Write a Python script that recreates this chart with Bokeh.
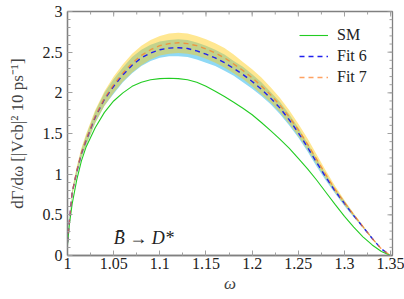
from bokeh.plotting import figure
from bokeh.models import FixedTicker, Label, CustomJSTickFormatter
from bokeh.embed import file_html
from bokeh.resources import INLINE

# ---------------- data ----------------
omega = [1.000, 1.002, 1.005, 1.010, 1.015, 1.020, 1.030, 1.040, 1.050, 1.060,
         1.070, 1.080, 1.090, 1.100, 1.110, 1.120, 1.130, 1.140, 1.150, 1.160,
         1.170, 1.180, 1.190, 1.200, 1.210, 1.220, 1.230, 1.240, 1.250, 1.260,
         1.270, 1.280, 1.290, 1.300, 1.310, 1.320, 1.330, 1.340, 1.350]

sm = [0.13, 0.38, 0.63, 0.93, 1.16, 1.33, 1.57, 1.76, 1.90, 2.00,
      2.08, 2.13, 2.16, 2.175, 2.18, 2.175, 2.16, 2.13, 2.08, 2.02,
      1.955, 1.885, 1.81, 1.73, 1.635, 1.535, 1.43, 1.32, 1.195, 1.065,
      0.925, 0.775, 0.625, 0.48, 0.35, 0.23, 0.13, 0.05, 0.0]

fit6 = [0.16, 0.42, 0.77, 1.03, 1.25, 1.41, 1.70, 1.92, 2.08, 2.22,
        2.34, 2.43, 2.49, 2.53, 2.55, 2.555, 2.545, 2.515, 2.475, 2.43,
        2.37, 2.30, 2.225, 2.14, 2.045, 1.935, 1.815, 1.67, 1.51, 1.33,
        1.14, 0.96, 0.79, 0.64, 0.49, 0.35, 0.21, 0.08, 0.0]
fit6_lo = [0.15, 0.40, 0.74, 0.99, 1.20, 1.35, 1.63, 1.84, 1.99, 2.13,
           2.24, 2.33, 2.39, 2.43, 2.45, 2.45, 2.44, 2.41, 2.37, 2.33,
           2.27, 2.21, 2.13, 2.05, 1.96, 1.86, 1.74, 1.60, 1.45, 1.28,
           1.09, 0.92, 0.76, 0.61, 0.47, 0.34, 0.20, 0.08, 0.0]
fit6_hi = [0.17, 0.44, 0.80, 1.07, 1.30, 1.47, 1.77, 2.00, 2.17, 2.31,
           2.44, 2.53, 2.59, 2.63, 2.65, 2.66, 2.65, 2.62, 2.58, 2.53,
           2.47, 2.39, 2.32, 2.23, 2.13, 2.01, 1.89, 1.74, 1.57, 1.38,
           1.19, 1.00, 0.82, 0.67, 0.51, 0.36, 0.22, 0.08, 0.0]

fit7 = [0.16, 0.42, 0.77, 1.04, 1.26, 1.42, 1.71, 1.93, 2.10, 2.245,
        2.365, 2.46, 2.53, 2.58, 2.605, 2.615, 2.605, 2.58, 2.54, 2.49,
        2.43, 2.355, 2.275, 2.185, 2.085, 1.975, 1.85, 1.705, 1.545, 1.37,
        1.18, 0.99, 0.81, 0.65, 0.50, 0.355, 0.21, 0.08, 0.0]
fit7_lo = [0.15, 0.40, 0.73, 0.99, 1.20, 1.35, 1.63, 1.84, 2.00, 2.14,
           2.25, 2.34, 2.41, 2.46, 2.48, 2.49, 2.48, 2.46, 2.42, 2.37,
           2.31, 2.24, 2.17, 2.08, 1.98, 1.88, 1.76, 1.62, 1.47, 1.30,
           1.12, 0.94, 0.77, 0.62, 0.48, 0.34, 0.20, 0.08, 0.0]
fit7_hi = [0.17, 0.44, 0.81, 1.09, 1.32, 1.49, 1.79, 2.02, 2.20, 2.35,
           2.48, 2.58, 2.65, 2.70, 2.73, 2.74, 2.73, 2.70, 2.66, 2.61,
           2.55, 2.47, 2.38, 2.29, 2.19, 2.07, 1.94, 1.79, 1.62, 1.44,
           1.24, 1.04, 0.85, 0.68, 0.52, 0.37, 0.22, 0.08, 0.0]

x_ticks = [1.0, 1.05, 1.1, 1.15, 1.2, 1.25, 1.3, 1.35]
x_tick_labels = ["1", "1.05", "1.1", "1.15", "1.2", "1.25", "1.3", "1.35"]
y_ticks = [0.0, 0.5, 1.0, 1.5, 2.0, 2.5, 3.0]
y_tick_labels = ["0", "0.5", "1", "1.5", "2", "2.5", "3"]
series_labels = ["SM", "Fit 6", "Fit 7"]

x_minor = [1.0 + 0.025 * i for i in range(15)]
y_minor = [0.1 * i for i in range(31)]

X0, X1 = 1.0, 1.352
Y0, Y1 = 0.0, 3.0
W, H = 404, 299
BL, BR, BT, BB = 67, 12, 11, 44
FW, FH = W - BL - BR, H - BT - BB

FONT = "Liberation Serif"
AXIS_COLOR = "#808080"
TICK_COLOR = "#a0a0a0"

p = figure(width=W, height=H, x_range=(X0, X1), y_range=(Y0, Y1),
           output_backend="svg", toolbar_location=None,
           min_border_left=BL, min_border_right=BR, min_border_top=BT, min_border_bottom=BB)
p.grid.visible = False
p.outline_line_color = AXIS_COLOR
p.outline_line_width = 1.3
p.background_fill_color = "white"
p.border_fill_color = "white"


def fmt(tvals, tlabels):
    return CustomJSTickFormatter(args=dict(tvals=tvals, tlabels=tlabels), code="""
        const i = tvals.findIndex(t => Math.abs(t - tick) < 1e-9);
        return i >= 0 ? tlabels[i] : '';
    """)


def style(ax, tvals, minor, tlabels):
    ax.ticker = FixedTicker(ticks=tvals, minor_ticks=minor)
    ax.formatter = fmt(tvals, tlabels)
    ax.axis_line_color = AXIS_COLOR
    ax.axis_line_width = 1.3
    ax.major_tick_in = 5
    ax.major_tick_out = 0
    ax.minor_tick_in = 3
    ax.minor_tick_out = 0
    ax.major_tick_line_color = TICK_COLOR
    ax.minor_tick_line_color = TICK_COLOR
    ax.major_tick_line_width = 1
    ax.minor_tick_line_width = 1
    ax.major_label_text_font = FONT
    ax.major_label_text_color = "#222222"
    ax.major_label_text_font_size = "16px"


xa = p.xaxis[0]
ya = p.yaxis[0]
style(xa, x_ticks, x_minor, x_tick_labels)
style(ya, y_ticks, y_minor, y_tick_labels)
xa.major_label_standoff = 2
ya.major_label_standoff = 5
xa.axis_label = "ω"
xa.axis_label_text_font = FONT
xa.axis_label_text_font_style = "italic"
xa.axis_label_text_font_size = "17px"
xa.axis_label_standoff = 2
ya.axis_label = "dΓ/dω [|Vcb|² 10 ps⁻¹]"
ya.axis_label_text_font = FONT
ya.axis_label_text_font_style = "normal"
ya.axis_label_text_font_size = "17px"
ya.axis_label_standoff = 13

# mirrored inward ticks on the top and right frame edges
ty_major = 5 * (Y1 - Y0) / FH
ty_minor = 3 * (Y1 - Y0) / FH
tx_major = 5 * (X1 - X0) / FW
tx_minor = 3 * (X1 - X0) / FW
p.segment(x0=x_minor, x1=x_minor, y0=[Y1] * len(x_minor), y1=[Y1 - ty_minor] * len(x_minor),
          line_color=TICK_COLOR, line_width=1)
p.segment(x0=x_ticks, x1=x_ticks, y0=[Y1] * len(x_ticks), y1=[Y1 - ty_major] * len(x_ticks),
          line_color=TICK_COLOR, line_width=1)
p.segment(x0=[X1] * len(y_minor), x1=[X1 - tx_minor] * len(y_minor), y0=y_minor, y1=y_minor,
          line_color=TICK_COLOR, line_width=1)
p.segment(x0=[X1] * len(y_ticks), x1=[X1 - tx_major] * len(y_ticks), y0=y_ticks, y1=y_ticks,
          line_color=TICK_COLOR, line_width=1)

# uncertainty bands
p.varea(x=omega, y1=fit6_lo, y2=fit6_hi, fill_color="#8fd9f5", fill_alpha=1.0)
p.varea(x=omega, y1=fit7_lo, y2=fit7_hi, fill_color="#ffca10", fill_alpha=0.46)

# central curves
p.line(omega, sm, line_color="#22cc22", line_width=1.1, legend_label=series_labels[0])
p.line(omega, fit6, line_color="#2020ee", line_width=1.4, line_dash="5 4",
       legend_label=series_labels[1])
p.line(omega, fit7, line_color="#ff7a20", line_width=1.4, line_dash="5 4", line_alpha=0.7,
       legend_label=series_labels[2])

p.add_layout(Label(x=1.05, y=0.21, text="B\u0304 \u2192 D*", text_font=FONT,
                   text_font_style="italic", text_font_size="18px",
                   text_baseline="middle", text_align="left", text_color="#222222"))

lg = p.legend[0]
lg.location = (232, 169)
lg.margin = 0
lg.padding = 4
lg.spacing = 3
lg.glyph_width = 29
lg.glyph_height = 16
lg.label_height = 16
lg.label_standoff = 9
lg.label_text_font = FONT
lg.label_text_font_size = "16px"
lg.label_text_color = "#222222"
lg.border_line_color = None
lg.background_fill_alpha = 0.0

open("out.html", "w").write(file_html(p, INLINE))
